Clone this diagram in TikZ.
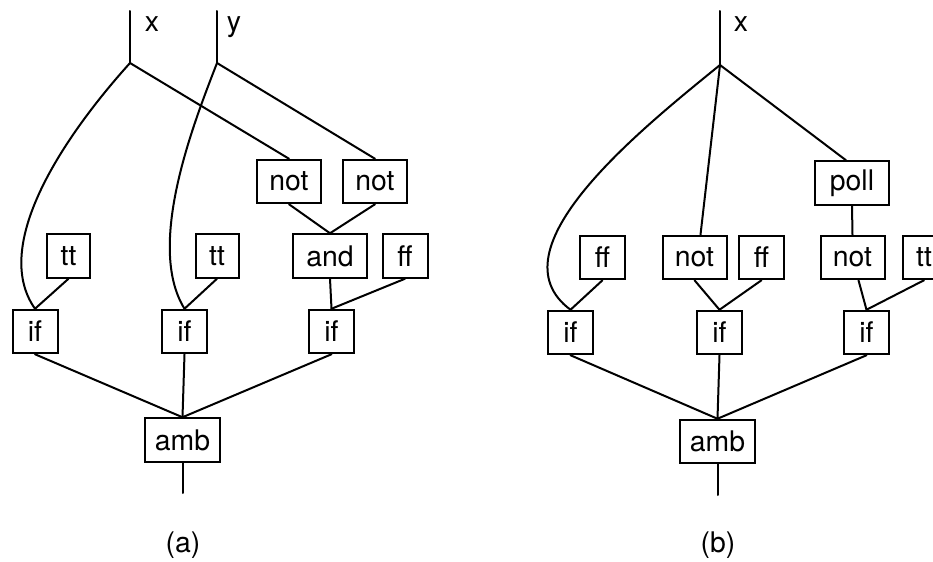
\documentclass[tikz,border=0pt]{standalone}
\usepackage{fontspec}
\setmainfont{TeX Gyre Heros}
\begin{document}
\begin{tikzpicture}[x=0.5pt,y=-0.5pt,
  line width=1pt,
  every node/.style={font=\fontsize{14.2}{16}\selectfont},
  box/.style={draw,rectangle,inner sep=0pt,minimum height=21.75pt,minimum width=22.5pt,line width=1pt},
  wbox/.style={box,minimum width=32pt},
  wwbox/.style={box,minimum width=37pt},
  lbl/.style={anchor=base,inner sep=0pt},
  wire/.style={line cap=round}]
\useasboundingbox (0,0) rectangle (933,562);
% ---------------- (a) ----------------
\coordinate (axtop) at (130,11);
\coordinate (ax) at (130,63);
\coordinate (aytop) at (217,11);
\coordinate (ay) at (217,63);
\node[lbl] (axl) at (152,32) {x};
\node[lbl] (ayl) at (234,32) {y};
\node[wbox] (anot1) at (289,181.5) {not};
\node[wbox] (anot2) at (375,181.5) {not};
\node[box,minimum width=21.5pt] (att1) at (68.5,256) {tt};
\node[box,minimum width=21.5pt] (att2) at (217,256) {tt};
\node[wwbox] (aand) at (330,256) {and};
\node[box] (aff) at (405,256) {ff};
\node[box] (aif1) at (35,331.5) {if};
\node[box] (aif2) at (184.5,331.5) {if};
\node[box] (aif3) at (331.5,331.5) {if};
\node[box,minimum width=37.5pt] (aamb) at (182.5,440) {amb};
\coordinate (aout) at (182.5,493);
\node (acap) at (183,545) {(a)};
\draw[wire] (axtop) -- (ax);
\draw[wire] (aytop) -- (ay);
\draw[wire] (ax) .. controls (65,135) and (-10,245) .. (aif1.north);
\draw[wire] (ax) -- (anot1.north);
\draw[wire] (ay) .. controls (195,120) and (145,245) .. (aif2.north);
\draw[wire] (ay) -- (anot2.north);
\draw[wire] (anot1.south) -- (aand.north);
\draw[wire] (anot2.south) -- (aand.north);
\draw[wire] (att1.south) -- (aif1.north);
\draw[wire] (att2.south) -- (aif2.north);
\draw[wire] (aand.south) -- (aif3.north);
\draw[wire] (aff.south) -- (aif3.north);
\draw[wire] (aif1.south) -- (aamb.north);
\draw[wire] (aif2.south) -- (aamb.north);
\draw[wire] (aif3.south) -- (aamb.north);
\draw[wire] (aamb.south) -- (aout);
% ---------------- (b) ----------------
\coordinate (bxtop) at (720,11);
\coordinate (bx) at (720,65);
\node[lbl] (bxl) at (741,32) {x};
\node[wwbox] (bpoll) at (852,183) {poll};
\node[box] (bff1) at (602.5,257.5) {ff};
\node[wbox] (bnot1) at (694.5,257.5) {not};
\node[box] (bff2) at (761.5,257.5) {ff};
\node[wbox] (bnot2) at (852.5,257.5) {not};
\node[box,minimum width=21.5pt] (btt) at (924,257.5) {tt};
\node[box] (bif1) at (570.5,332.5) {if};
\node[box] (bif2) at (719.5,332.5) {if};
\node[box] (bif3) at (866.5,332.5) {if};
\node[wwbox,minimum width=37.5pt] (bamb) at (717.5,441.5) {amb};
\coordinate (bout) at (717.5,495);
\node (bcap) at (718,545) {(b)};
\draw[wire] (bxtop) -- (bx);
\draw[wire] (bx) .. controls (640,130) and (490,250) .. (bif1.north);
\draw[wire] (bx) -- ([xshift=3]bnot1.north);
\draw[wire] (bx) -- ([xshift=-3]bpoll.north);
\draw[wire] (bpoll.south) -- (bnot2.north);
\draw[wire] (bff1.south) -- (bif1.north);
\draw[wire] (bnot1.south) -- (bif2.north);
\draw[wire] (bff2.south) -- (bif2.north);
\draw[wire] ([xshift=3]bnot2.south) -- (bif3.north);
\draw[wire] (btt.south) -- (bif3.north);
\draw[wire] (bif1.south) -- (bamb.north);
\draw[wire] (bif2.south) -- (bamb.north);
\draw[wire] (bif3.south) -- (bamb.north);
\draw[wire] (bamb.south) -- (bout);
\end{tikzpicture}
\end{document}
